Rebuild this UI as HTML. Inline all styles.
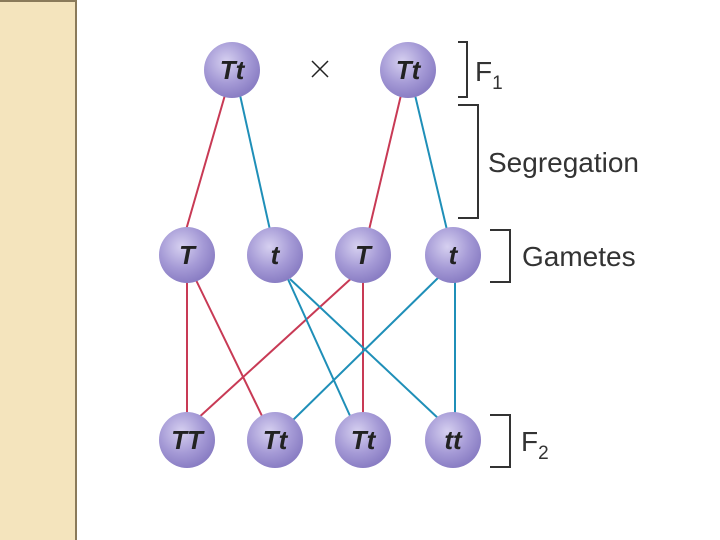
<!DOCTYPE html>
<html><head><style>
body{margin:0;width:720px;height:540px;background:#fff;overflow:hidden;position:relative;font-family:"Liberation Sans",sans-serif}
#strip{position:absolute;left:0;top:0;width:77px;height:540px;background:#f4e4bd;border-right:2px solid #8a7a5a;border-top:2px solid #8a7a5a;box-sizing:border-box}
</style></head><body>
<div id="strip"></div>
<svg width="720" height="540" style="position:absolute;left:0;top:0">
<defs><radialGradient id="g" cx="40%" cy="35%" r="65%"><stop offset="0" stop-color="#d6d0f0"/><stop offset="0.6" stop-color="#a59ad6"/><stop offset="1" stop-color="#8a7ec4"/></radialGradient></defs>
<g stroke-width="2" fill="none">
<line x1="225" y1="95" x2="186" y2="230" stroke="#c83a55"/>
<line x1="240" y1="95" x2="270" y2="230" stroke="#1f8fb8"/>
<line x1="401" y1="95" x2="369" y2="230" stroke="#c83a55"/>
<line x1="415" y1="95" x2="447" y2="230" stroke="#1f8fb8"/>
<line x1="187" y1="280" x2="187" y2="415" stroke="#c83a55"/>
<line x1="195" y1="278" x2="263" y2="418" stroke="#c83a55"/>
<line x1="355" y1="275" x2="196" y2="420" stroke="#c83a55"/>
<line x1="363" y1="280" x2="363" y2="415" stroke="#c83a55"/>
<line x1="287" y1="277" x2="351" y2="418" stroke="#1f8fb8"/>
<line x1="290" y1="279" x2="440" y2="420" stroke="#1f8fb8"/>
<line x1="441" y1="275" x2="292" y2="421" stroke="#1f8fb8"/>
<line x1="455" y1="280" x2="455" y2="415" stroke="#1f8fb8"/>
</g>
<g fill="url(#g)">
<circle cx="232" cy="70" r="28"/><circle cx="408" cy="70" r="28"/>
<circle cx="187" cy="255" r="28"/><circle cx="275" cy="255" r="28"/><circle cx="363" cy="255" r="28"/><circle cx="453" cy="255" r="28"/>
<circle cx="187" cy="440" r="28"/><circle cx="275" cy="440" r="28"/><circle cx="363" cy="440" r="28"/><circle cx="453" cy="440" r="28"/>
</g>
<g font-family="Liberation Sans" font-weight="bold" font-style="italic" font-size="26" fill="#222" text-anchor="middle">
<text x="232" y="79">Tt</text><text x="408" y="79">Tt</text>
<text x="187" y="264">T</text><text x="275" y="264">t</text><text x="363" y="264">T</text><text x="453" y="264">t</text>
<text x="187" y="449">TT</text><text x="275" y="449">Tt</text><text x="363" y="449">Tt</text><text x="453" y="449">tt</text>
</g>
<g stroke="#222" stroke-width="1.5"><line x1="312" y1="61" x2="328" y2="77"/><line x1="328" y1="61" x2="312" y2="77"/></g>
<g stroke="#333" stroke-width="2" fill="none">
<polyline points="458,42 467,42 467,97 458,97"/>
<polyline points="458,105 478,105 478,218 458,218"/>
<polyline points="490,230 510,230 510,282 490,282"/>
<polyline points="490,415 510,415 510,467 490,467"/>
</g>
<g font-family="Liberation Sans" font-size="28" fill="#333">
<text x="475" y="81">F<tspan font-size="19" dy="8">1</tspan></text>
<text x="488" y="172">Segregation</text>
<text x="522" y="266">Gametes</text>
<text x="521" y="451">F<tspan font-size="19" dy="8">2</tspan></text>
</g>
</svg>
</body></html>
